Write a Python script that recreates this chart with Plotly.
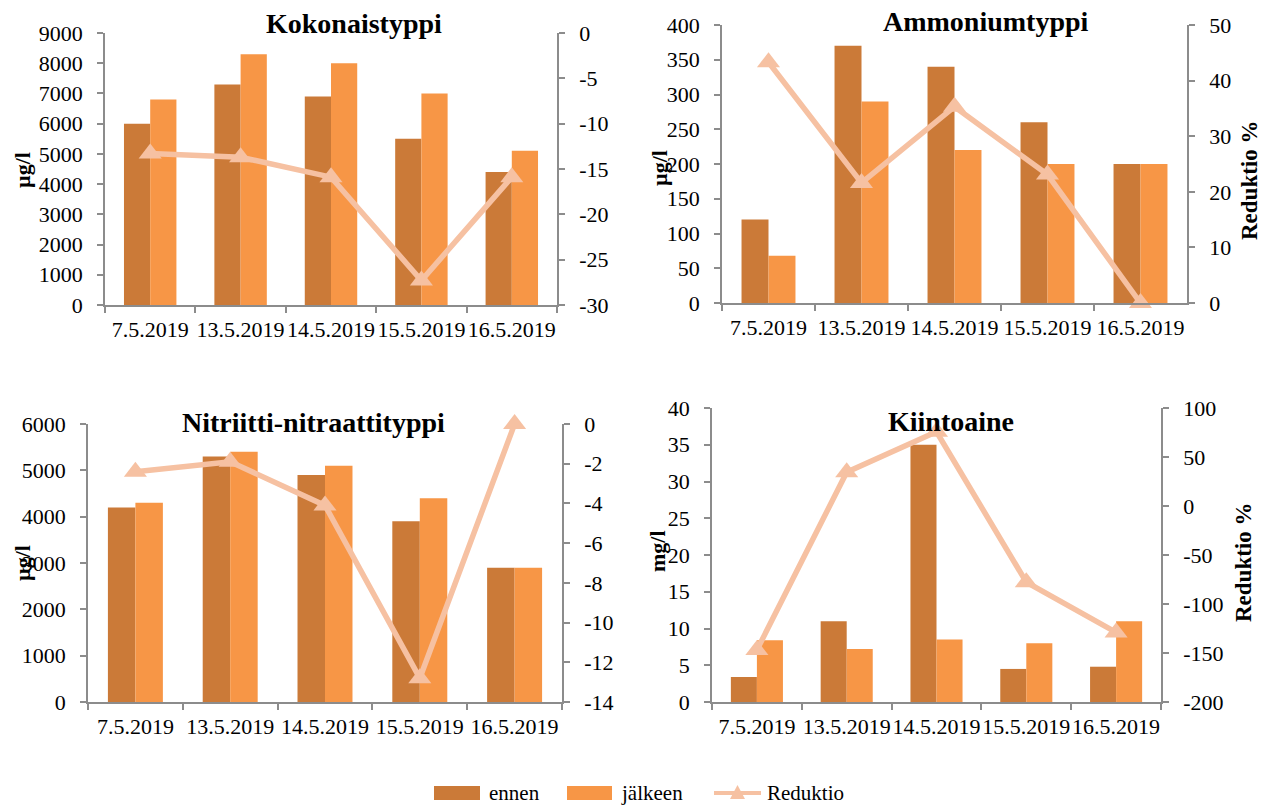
import plotly.graph_objects as go

categories = ["7.5.2019", "13.5.2019", "14.5.2019", "15.5.2019", "16.5.2019"]

titles = ["Kokonaistyppi", "Ammoniumtyppi", "Nitriitti-nitraattityppi", "Kiintoaine"]
units = ["µg/l", "µg/l", "µg/l", "mg/l"]

kok_ennen = [6000, 7300, 6900, 5500, 4400]
kok_jalkeen = [6800, 8300, 8000, 7000, 5100]
kok_red = [-13.3, -13.7, -15.9, -27.3, -15.9]

amm_ennen = [120, 370, 340, 260, 200]
amm_jalkeen = [68, 290, 220, 200, 200]
amm_red = [43.3, 21.6, 35.3, 23.1, 0]

nit_ennen = [4200, 5300, 4900, 3900, 2900]
nit_jalkeen = [4300, 5400, 5100, 4400, 2900]
nit_red = [-2.4, -1.9, -4.1, -12.8, 0]

kii_ennen = [3.4, 11, 35, 4.5, 4.8]
kii_jalkeen = [8.4, 7.2, 8.5, 8.0, 11]
kii_red = [-147, 34.5, 75.7, -77.8, -129]

ennen_all = [kok_ennen, amm_ennen, nit_ennen, kii_ennen]
jalkeen_all = [kok_jalkeen, amm_jalkeen, nit_jalkeen, kii_jalkeen]
red_all = [kok_red, amm_red, nit_red, kii_red]

left_ranges = [(0, 9000, 1000), (0, 400, 50), (0, 6000, 1000), (0, 40, 5)]
right_ranges = [(-30, 0, 5), (0, 50, 10), (-14, 0, 2), (-200, 100, 50)]
right_titles = [None, "Reduktio %", None, "Reduktio %"]
legend_names = ["ennen", "jälkeen", "Reduktio"]

W, H = 1264, 805
# plot boxes in pixels: (x0, x1, ytop, ybottom)
boxes = [(105, 557, 33, 305), (722, 1187, 25, 303), (88, 562, 424, 702), (712, 1161, 408, 702)]
title_pos = [(354, 23), (986, 22), (313, 422), (951, 421)]
ytitle_pos = [(23, 170), (659, 168), (22, 563), (657, 551)]
rtitle_pos = [None, (1250, 180), None, (1243, 562)]

C_ENNEN = "#CB7A38"
C_JALK = "#F79646"
C_RED = "#F6C1A2"
AX = "#8C8C8C"
FONT = "Liberation Serif, Times New Roman, serif"
TICK = 22


def px(x):
    return x / W


def py(y):
    return 1 - y / H


def fmt(v):
    return str(int(v)) if float(v).is_integer() else str(v)


fig = go.Figure()
layout = {}
annotations = []
shapes = []

for i in range(4):
    xa = "x" if i == 0 else f"x{i+1}"
    ya = "y" if i == 0 else f"y{2*i+1}"
    yb = f"y{2*i+2}"
    fig.add_trace(go.Bar(x=categories, y=ennen_all[i], name=legend_names[0], marker_color=C_ENNEN,
                         marker_line_width=0, xaxis=xa, yaxis=ya, showlegend=False, offsetgroup="e"))
    fig.add_trace(go.Bar(x=categories, y=jalkeen_all[i], name=legend_names[1], marker_color=C_JALK,
                         marker_line_width=0, xaxis=xa, yaxis=ya, showlegend=False, offsetgroup="j"))
    fig.add_trace(go.Scatter(x=categories, y=red_all[i], name=legend_names[2], mode="lines+markers",
                             line=dict(color=C_RED, width=5.5),
                             marker=dict(symbol="triangle-up", size=20, color=C_RED),
                             xaxis=xa, yaxis=yb, showlegend=False, cliponaxis=False))

    x0, x1, yt, ybp = boxes[i]
    xd = [px(x0), px(x1)]
    yd = [py(ybp), py(yt)]
    xkey = "xaxis" if i == 0 else f"xaxis{i+1}"
    ykey = "yaxis" if i == 0 else f"yaxis{2*i+1}"
    ykey2 = f"yaxis{2*i+2}"
    layout[xkey] = dict(domain=xd, anchor=ya, showline=True, linecolor=AX, linewidth=1.5,
                        ticks="outside", tickson="boundaries", ticklen=6, tickcolor=AX, tickwidth=1.5,
                        showgrid=False, zeroline=False, ticklabelstandoff=4, tickangle=0,
                        automargin=False,
                        tickfont=dict(family=FONT, size=TICK, color="black"))
    lo, hi, dt = left_ranges[i]
    lv = list(range(lo, hi + 1, dt))
    layout[ykey] = dict(domain=yd, anchor=xa, range=[lo, hi], tickvals=lv, ticktext=[fmt(v) for v in lv],
                        showline=True, linecolor=AX, linewidth=1.5, ticks="outside", ticklen=6,
                        tickcolor=AX, tickwidth=1.5, showgrid=False, zeroline=False, ticklabelstandoff=10,
                        automargin=False,
                        tickfont=dict(family=FONT, size=TICK, color="black"))
    rlo, rhi, rdt = right_ranges[i]
    rv = list(range(rlo, rhi + 1, rdt))
    layout[ykey2] = dict(domain=yd, anchor=xa, overlaying=ya, side="right", range=[rlo, rhi],
                         tickvals=rv, ticktext=[fmt(v) for v in rv], showline=True, linecolor=AX,
                         linewidth=1.5, ticks="outside", ticklen=6, tickcolor=AX, tickwidth=1.5,
                         showgrid=False, zeroline=False, ticklabelstandoff=10, automargin=False,
                         tickfont=dict(family=FONT, size=TICK, color="black"))

    tx, ty = title_pos[i]
    annotations.append(dict(text=f"<b>{titles[i]}</b>", x=px(tx), y=py(ty), xref="paper", yref="paper",
                            showarrow=False, font=dict(family=FONT, size=28, color="black"),
                            xanchor="center", yanchor="middle"))
    ux, uy = ytitle_pos[i]
    annotations.append(dict(text=f"<b>{units[i]}</b>", x=px(ux), y=py(uy), xref="paper", yref="paper",
                            showarrow=False, textangle=-90, font=dict(family=FONT, size=22, color="black"),
                            xanchor="center", yanchor="middle"))
    if rtitle_pos[i]:
        rx, ry = rtitle_pos[i]
        annotations.append(dict(text=f"<b>{right_titles[i]}</b>", x=px(rx), y=py(ry), xref="paper",
                                yref="paper", showarrow=False, textangle=-90,
                                font=dict(family=FONT, size=23, color="black"),
                                xanchor="center", yanchor="middle"))

# custom legend (decoration)
LY = 793
shapes.append(dict(type="rect", xref="paper", yref="paper", x0=px(434), x1=px(480), y0=py(800), y1=py(786),
                   fillcolor=C_ENNEN, line_width=0))
shapes.append(dict(type="rect", xref="paper", yref="paper", x0=px(567), x1=px(612), y0=py(800), y1=py(786),
                   fillcolor=C_JALK, line_width=0))
shapes.append(dict(type="line", xref="paper", yref="paper", x0=px(714), x1=px(761), y0=py(LY), y1=py(LY),
                   line=dict(color=C_RED, width=4)))
shapes.append(dict(type="path", xref="paper", yref="paper",
                   path=f"M {px(730)},{py(799)} L {px(745)},{py(799)} L {px(737.5)},{py(785)} Z",
                   fillcolor=C_RED, line_width=0))
for name, lx in zip(legend_names, [487, 619, 765]):
    annotations.append(dict(text=name, x=px(lx), y=py(LY), xref="paper", yref="paper", showarrow=False,
                            xanchor="left", yanchor="middle", font=dict(family=FONT, size=21, color="black")))

fig.update_layout(
    width=W, height=H, margin=dict(l=0, r=0, t=0, b=0),
    paper_bgcolor="white", plot_bgcolor="white",
    barmode="group", bargap=0.42, bargroupgap=0,
    font=dict(family=FONT, size=20, color="black"),
    annotations=annotations, shapes=shapes, showlegend=False,
    **layout,
)

fig.write_html("out.html")
